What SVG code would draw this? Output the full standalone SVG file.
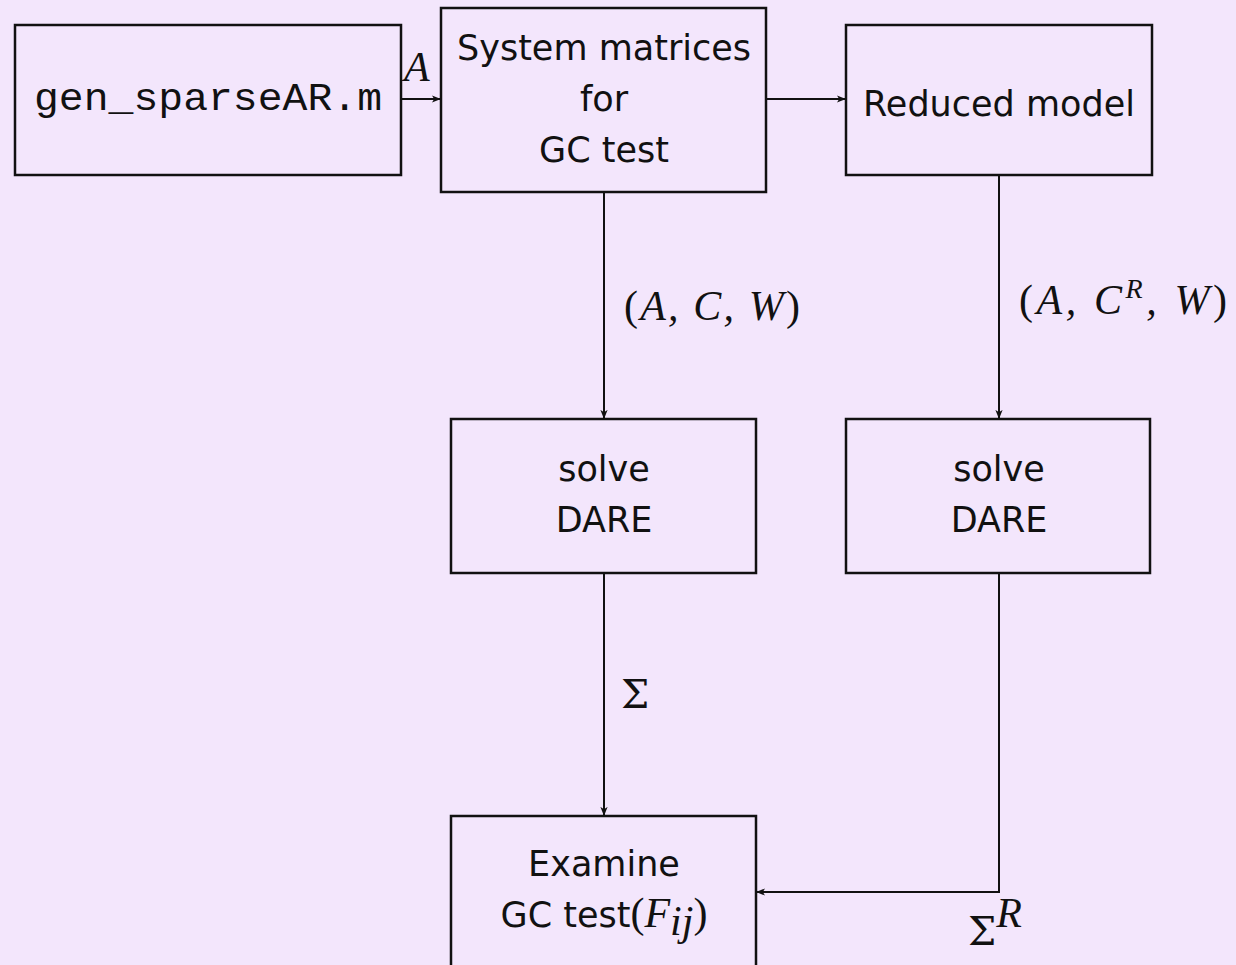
<svg xmlns="http://www.w3.org/2000/svg" width="1236" height="965" viewBox="0 0 1236 965">
<style>
.box{fill:none;stroke:#111;stroke-width:2.5}
.t{font-family:"DejaVu Sans","Liberation Sans",sans-serif;font-size:35px;fill:#111;text-anchor:middle}
.m{font-family:"Liberation Serif","DejaVu Serif",serif;font-size:42px;fill:#111;font-style:italic}
.r{font-style:normal}
.sig{font-family:"DejaVu Serif","Liberation Serif",serif;font-size:40px;fill:#111}
.mono{font-family:"Liberation Mono","DejaVu Sans Mono",monospace;font-size:38px;fill:#111;text-anchor:middle}
.c{fill:none;stroke:#111;stroke-width:2}
</style>
<defs>
<marker id="arr" viewBox="0 0 10 10" refX="9" refY="5" markerWidth="9" markerHeight="9" markerUnits="userSpaceOnUse" orient="auto">
<path d="M0,1 L10,5 L0,9 L2.5,5 Z" fill="#111"/>
</marker>
</defs>
<rect width="1236" height="965" fill="#f3e6fc"/>
<g id="gen">
<rect class="box" x="15" y="25" width="386" height="150"/>
<text class="mono" x="208" y="110" textLength="348" lengthAdjust="spacingAndGlyphs">gen_sparseAR.m</text>
</g>
<g id="system">
<rect class="box" x="441" y="8" width="325" height="184"/>
<text class="t" x="604" y="60">System matrices</text>
<text class="t" x="604" y="111">for</text>
<text class="t" x="604" y="162">GC test</text>
</g>
<g id="reduced">
<rect class="box" x="846" y="25" width="306" height="150"/>
<text class="t" x="999" y="116">Reduced model</text>
</g>
<g id="dare1">
<rect class="box" x="451" y="419" width="305" height="154"/>
<text class="t" x="604" y="481">solve</text>
<text class="t" x="604" y="532">DARE</text>
</g>
<g id="dare2">
<rect class="box" x="846" y="419" width="304" height="154"/>
<text class="t" x="999" y="481">solve</text>
<text class="t" x="999" y="532">DARE</text>
</g>
<g id="examine">
<rect class="box" x="451" y="816" width="305" height="152"/>
<text class="t" x="604" y="876">Examine</text>
<text x="604" y="927" text-anchor="middle"><tspan class="t">GC test</tspan><tspan class="m r">(</tspan><tspan class="m">F</tspan><tspan class="m" font-size="28" dy="8">ij</tspan><tspan class="m r" dy="-8">)</tspan></text>
</g>
<g id="connectors">
<line class="c" x1="401" y1="99" x2="440" y2="99" marker-end="url(#arr)"/>
<line class="c" x1="766" y1="99" x2="845" y2="99" marker-end="url(#arr)"/>
<line class="c" x1="604" y1="192" x2="604" y2="418" marker-end="url(#arr)"/>
<line class="c" x1="999" y1="175" x2="999" y2="418" marker-end="url(#arr)"/>
<line class="c" x1="604" y1="573" x2="604" y2="815" marker-end="url(#arr)"/>
<polyline class="c" points="999,573 999,892 757,892" marker-end="url(#arr)"/>
</g>
<g id="labels">
<text class="m" x="404" y="81" font-size="38">A</text>
<text class="m" x="624" y="320" textLength="176" lengthAdjust="spacing"><tspan class="r">(</tspan>A, C, W<tspan class="r">)</tspan></text>
<text class="m" x="1019" y="314" textLength="208" lengthAdjust="spacing"><tspan class="r">(</tspan>A, C<tspan font-size="28" dy="-16">R</tspan><tspan dy="16">, W</tspan><tspan class="r">)</tspan></text>
<text class="sig" x="621" y="708">Σ</text>
<text x="968" y="945"><tspan class="sig">Σ</tspan><tspan class="m" font-size="28" dy="-18">R</tspan></text>
</g>
</svg>
